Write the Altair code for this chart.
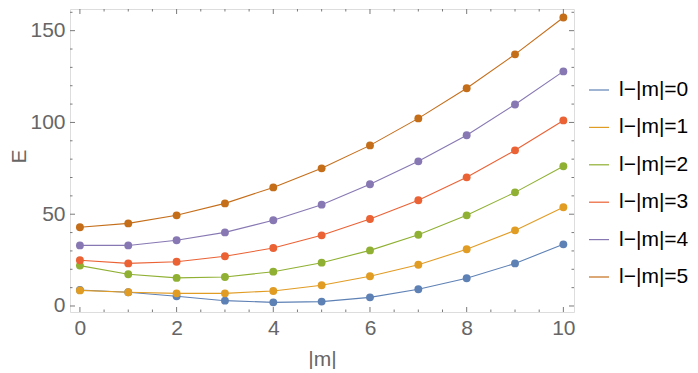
import altair as alt
import pandas as pd

m = list(range(11))
E0 = [8.7, 7.5, 5.3, 2.9, 2.0, 2.4, 4.7, 9.1, 15.1, 23.2, 33.6]
E1 = [8.5, 7.5, 6.9, 6.9, 8.2, 11.3, 16.2, 22.5, 30.9, 41.2, 53.8]
E2 = [22.0, 17.3, 15.3, 15.8, 18.7, 23.6, 30.3, 38.8, 49.4, 61.9, 76.1]
E3 = [24.9, 23.2, 24.1, 27.1, 31.6, 38.5, 47.4, 57.6, 70.1, 84.8, 101.1]
E4 = [33.0, 33.0, 35.8, 40.1, 46.7, 55.2, 66.3, 78.8, 93.0, 109.8, 127.8]
E5 = [42.9, 45.0, 49.4, 55.9, 64.6, 75.0, 87.5, 102.2, 118.6, 137.1, 157.2]
series_names = ["l\u2212|m|=0", "l\u2212|m|=1", "l\u2212|m|=2",
                "l\u2212|m|=3", "l\u2212|m|=4", "l\u2212|m|=5"]
colors = ["#5E81B5", "#E19C24", "#8FB032", "#EB6235", "#8778B3", "#C56E1A"]

x_major = [0, 2, 4, 6, 8, 10]
x_minor = [0.5, 1, 1.5, 2.5, 3, 3.5, 4.5, 5, 5.5, 6.5, 7, 7.5, 8.5, 9, 9.5]
y_major = [0, 50, 100, 150]
y_minor = [10, 20, 30, 40, 60, 70, 80, 90, 110, 120, 130, 140, 160]

W, H = 504, 303
XDOM = [-0.205, 10.22]
YDOM = [-3.27, 161.8]
FONT = "Liberation Sans"
GRAY = "#666666"
FRAME = "#7a7a7a"
FS = 21

rows = []
for name, vals in zip(series_names, [E0, E1, E2, E3, E4, E5]):
    for mi, e in zip(m, vals):
        rows.append({"m": mi, "E": e, "series": name})
df = pd.DataFrame(rows)

xs = alt.Scale(domain=XDOM, nice=False, zero=False)
ys = alt.Scale(domain=YDOM, nice=False, zero=False)

legend = alt.Legend(
    title=None, orient="none", legendX=518, legendY=70,
    symbolType="stroke", symbolSize=400, symbolStrokeWidth=1.2,
    labelFont=FONT, labelFontSize=FS, labelColor="black", labelLimit=200,
    labelOffset=9, rowPadding=16.4, padding=0,
)
color = alt.Color("series:N", scale=alt.Scale(domain=series_names, range=colors),
                  legend=legend)

x_axis = alt.Axis(values=x_major, format="d", title="|m|", grid=False, domain=False,
                  ticks=False, tickSize=0, labelPadding=5, labelFont=FONT,
                  labelFontSize=FS, labelColor=GRAY, titleFont=FONT, titleFontSize=FS,
                  titleFontWeight="normal", titleColor=GRAY, titleY=53,
                  titleBaseline="alphabetic")
y_axis = alt.Axis(values=y_major, format="d", title="E", grid=False, domain=False,
                  ticks=False, tickSize=0, labelPadding=5, labelFont=FONT,
                  labelFontSize=FS, labelColor=GRAY, titleFont=FONT, titleFontSize=FS,
                  titleFontWeight="normal", titleColor=GRAY, titleX=-51, titleY=147,
                  titleAngle=270, titleAlign="center", titleBaseline="middle")

base = alt.Chart(df)
lines = base.mark_line(strokeWidth=1.1).encode(
    x=alt.X("m:Q", scale=xs, axis=x_axis),
    y=alt.Y("E:Q", scale=ys, axis=y_axis),
    color=color,
    detail="series:N",
)
points = base.mark_circle(size=62, opacity=1).encode(
    x=alt.X("m:Q", scale=xs),
    y=alt.Y("E:Q", scale=ys),
    color=color,
)

def xticks(vals, length):
    d = pd.DataFrame({"t": vals})
    bottom = alt.Chart(d).mark_rule(color=FRAME, strokeWidth=1).encode(
        x=alt.X("t:Q", scale=xs), y=alt.value(H), y2=alt.value(H - length))
    top = alt.Chart(d).mark_rule(color=FRAME, strokeWidth=1).encode(
        x=alt.X("t:Q", scale=xs), y=alt.value(0), y2=alt.value(length))
    return [bottom, top]

def yticks(vals, length):
    d = pd.DataFrame({"t": vals})
    left = alt.Chart(d).mark_rule(color=FRAME, strokeWidth=1).encode(
        y=alt.Y("t:Q", scale=ys), x=alt.value(0), x2=alt.value(length))
    right = alt.Chart(d).mark_rule(color=FRAME, strokeWidth=1).encode(
        y=alt.Y("t:Q", scale=ys), x=alt.value(W), x2=alt.value(W - length))
    return [left, right]

tick_layers = xticks(x_major, 5) + xticks(x_minor, 2.5) + yticks(y_major, 5) + yticks(y_minor, 2.5)

chart = alt.layer(*tick_layers, lines, points).properties(
    width=W, height=H,
    autosize=alt.AutoSizeParams(type="none"),
    padding={"left": 62, "top": 1, "right": 116, "bottom": 57},
).configure_view(
    stroke=FRAME, strokeWidth=1
).configure(background="white")

chart.save("out.html", embed_options={"renderer": "svg", "actions": False})
